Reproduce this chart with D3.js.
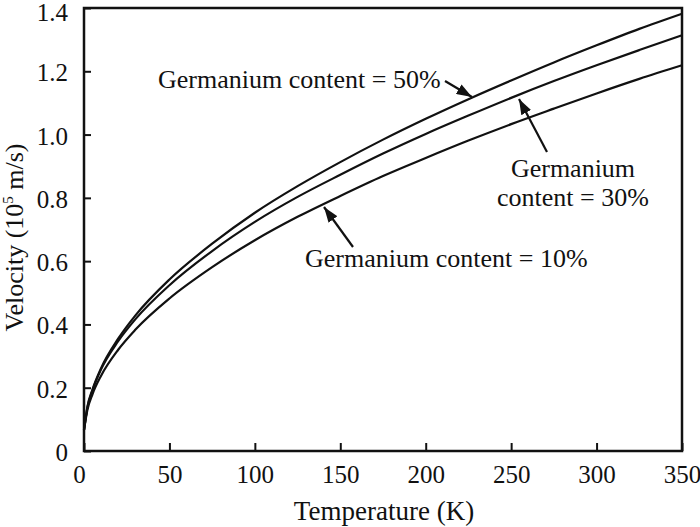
<!DOCTYPE html>
<html><head><meta charset="utf-8">
<script src="https://cdn.jsdelivr.net/npm/d3@7"></script>
<style>body{margin:0;background:#fff}svg{display:block}text{font-family:"Liberation Serif","Times New Roman",serif;fill:#111}</style>
</head><body><svg id="c" width="700" height="527"></svg>
<script>
const temps = [0, 2, 5, 10, 20, 30, 50, 75, 100, 125, 150, 175, 200, 225, 250, 275, 300, 325, 350];
const ge50 = [0.066, 0.140, 0.195, 0.262, 0.355, 0.428, 0.542, 0.655, 0.753, 0.837, 0.913, 0.984, 1.050, 1.112, 1.171, 1.228, 1.282, 1.334, 1.382];
const ge30 = [0.066, 0.138, 0.192, 0.258, 0.347, 0.416, 0.524, 0.632, 0.724, 0.803, 0.873, 0.940, 1.002, 1.060, 1.116, 1.169, 1.219, 1.267, 1.314];
const ge10 = [0.066, 0.130, 0.180, 0.238, 0.320, 0.383, 0.482, 0.581, 0.666, 0.740, 0.806, 0.869, 0.926, 0.981, 1.033, 1.082, 1.130, 1.176, 1.219];
const xTicks = [0, 50, 100, 150, 200, 250, 300, 350];
const yTicks = [0, 0.2, 0.4, 0.6, 0.8, 1.0, 1.2, 1.4];
const yTickLabels = ["0", "0.2", "0.4", "0.6", "0.8", "1.0", "1.2", "1.4"];

const svg = d3.select("#c");
const L = 84, R = 682, T = 8, B = 451;
const x = d3.scaleLinear().domain([0, 350]).range([L, R]);
const y = d3.scaleLinear().domain([0, 1.4]).range([B, T]);
const ink = "#111";

// axes
const gx = svg.append("g").attr("transform", `translate(0,${B})`)
  .call(d3.axisBottom(x).tickValues(xTicks).tickSizeInner(-8).tickSizeOuter(0).tickPadding(14).tickFormat(d3.format("d")));
const gy = svg.append("g").attr("transform", `translate(${L},0)`)
  .call(d3.axisLeft(y).tickValues(yTicks).tickSizeInner(-7).tickSizeOuter(0).tickPadding(16).tickFormat((d,i)=>yTickLabels[i]));
[gx, gy].forEach(g => {
  g.select(".domain").remove();
  g.selectAll(".tick line").attr("stroke", ink).attr("stroke-width", 2);
  g.selectAll(".tick text").attr("font-size", 25).attr("fill", ink)
   .style("font-family", '"Liberation Serif","Times New Roman",serif');
});
gx.selectAll(".tick text").filter(d => d === 0).attr("dx", -5);
gy.selectAll(".tick text").attr("dy", "0.38em");
gy.selectAll(".tick text").filter(d => d === 1.4).attr("dy", "0.5em");

// frame
svg.append("rect").attr("x", L).attr("y", T).attr("width", R - L).attr("height", B - T)
  .attr("fill", "none").attr("stroke", ink).attr("stroke-width", 2.5);

// curves
const line = d3.line().x((d, i) => x(temps[i])).y(d => y(d)).curve(d3.curveMonotoneX);
[ge50, ge30, ge10].forEach(s => {
  svg.append("path").attr("d", line(s)).attr("fill", "none").attr("stroke", ink).attr("stroke-width", 2.2);
});

// arrows
svg.append("defs").append("marker").attr("id", "ah").attr("viewBox", "0 0 14 10")
  .attr("refX", 14).attr("refY", 5).attr("markerWidth", 7).attr("markerHeight", 5)
  .attr("markerUnits", "strokeWidth").attr("orient", "auto")
  .append("path").attr("d", "M0,0 L14,5 L0,10 Z").attr("fill", ink);
const arrows = [
  [[445, 81], [472, 97]],
  [[547, 152], [519, 99]],
  [[353, 247], [324, 207]]
];
arrows.forEach(([a, b]) => {
  svg.append("line").attr("x1", a[0]).attr("y1", a[1]).attr("x2", b[0]).attr("y2", b[1])
    .attr("stroke", ink).attr("stroke-width", 2.2).attr("marker-end", "url(#ah)");
});

// annotations
svg.append("text").attr("x", 158).attr("y", 88).attr("font-size", 26).text("Germanium content = 50%");
const t30 = svg.append("text").attr("x", 573).attr("y", 177).attr("font-size", 26).attr("text-anchor", "middle");
t30.append("tspan").attr("x", 573).text("Germanium");
t30.append("tspan").attr("x", 573).attr("dy", 29).text("content = 30%");
svg.append("text").attr("x", 305).attr("y", 267).attr("font-size", 26).text("Germanium content = 10%");

// axis titles
svg.append("text").attr("x", 384).attr("y", 520).attr("font-size", 27)
  .attr("text-anchor", "middle").text("Temperature (K)");
const yt = svg.append("text").attr("transform", `translate(23,${(T + B) / 2 + 8}) rotate(-90)`)
  .attr("font-size", 26).attr("text-anchor", "middle");
yt.append("tspan").text("Velocity (10");
yt.append("tspan").attr("font-size", 15).attr("dy", -10).text("5");
yt.append("tspan").attr("dy", 10).text(" m/s)");
</script></body></html>
